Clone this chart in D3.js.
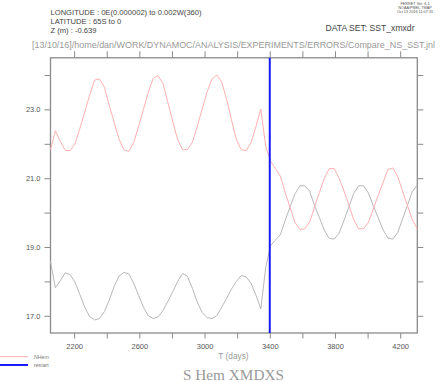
<!DOCTYPE html>
<html>
<head>
<meta charset="utf-8">
<script src="https://cdn.jsdelivr.net/npm/d3@7"></script>
<style>
  html, body { margin: 0; padding: 0; background: #fff; }
  svg { display: block; }
</style>
</head>
<body>
<svg id="chart" width="440" height="382"></svg>
<script>
// ---- data ----
const days = [2055, 2085, 2115, 2145, 2175, 2205, 2235, 2265, 2295, 2325, 2355, 2385,
  2415, 2445, 2475, 2505, 2535, 2565, 2595, 2625, 2655, 2685, 2715, 2745,
  2775, 2805, 2835, 2865, 2895, 2925, 2955, 2985, 3015, 3045, 3075, 3105,
  3135, 3165, 3195, 3225, 3255, 3285, 3315, 3345, 3375, 3405, 3435, 3465,
  3495, 3525, 3555, 3585, 3615, 3645, 3675, 3705, 3735, 3765, 3795, 3825,
  3855, 3885, 3915, 3945, 3975, 4005, 4035, 4065, 4095, 4125, 4155, 4185,
  4215, 4245, 4275, 4305];
const nhem = [21.83, 22.38, 22.07, 21.81, 21.80, 22.00, 22.44, 22.92, 23.41, 23.85, 23.89, 23.65,
  23.12, 22.63, 22.14, 21.83, 21.78, 22.03, 22.50, 23.00, 23.50, 23.90, 23.98, 23.75,
  23.20, 22.65, 22.12, 21.83, 21.83, 22.04, 22.50, 23.00, 23.50, 23.88, 24.00, 23.80,
  23.30, 22.70, 22.12, 21.83, 21.80, 22.03, 22.50, 23.01, 21.93, 21.49, 21.28, 21.06,
  20.58, 20.14, 19.71, 19.51, 19.53, 19.73, 20.17, 20.59, 21.00, 21.28, 21.28, 21.00,
  20.63, 20.22, 19.80, 19.53, 19.53, 19.71, 20.10, 20.50, 20.88, 21.25, 21.30, 21.04,
  20.62, 20.20, 19.78, 19.53];
const shem = [18.58, 17.81, 18.02, 18.25, 18.20, 17.98, 17.62, 17.25, 16.98, 16.88, 16.92, 17.12,
  17.45, 17.85, 18.15, 18.26, 18.22, 17.95, 17.60, 17.25, 17.00, 16.92, 16.97, 17.15,
  17.42, 17.70, 18.00, 18.23, 18.15, 17.80, 17.40, 17.10, 16.95, 16.92, 17.00, 17.25,
  17.50, 17.78, 18.00, 18.17, 18.13, 17.95, 17.60, 17.20, 18.40, 19.04, 19.20, 19.36,
  19.78, 20.17, 20.55, 20.78, 20.78, 20.62, 20.20, 19.85, 19.48, 19.25, 19.23, 19.40,
  19.77, 20.16, 20.56, 20.78, 20.78, 20.57, 20.20, 19.85, 19.50, 19.26, 19.23, 19.42,
  19.82, 20.22, 20.62, 20.80];
const restartDay = [3400];
const xTicks = [2200, 2400, 2600, 2800, 3000, 3200, 3400, 3600, 3800, 4000, 4200];
const xLabels = [2200, 2600, 3000, 3400, 3800, 4200];
const yTicks = [17, 18, 19, 20, 21, 22, 23, 24];
const yLabels = [17, 19, 21, 23];
const legendNames = ["NHem", "restart"];
const headerLines = ["LONGITUDE : 0E(0.000002) to 0.002W(360)", "LATITUDE : 65S to 0", "Z (m) : -0.639"];
const ferretLines = ["FERRET Ver. 6.1", "NOAA/PMEL TMAP", "Oct 13 2016 11:07:31"];
const datasetLabel = "DATA SET: SST_xmxdr";
const pathLabel = "[13/10/16]/home/dan/WORK/DYNAMOC/ANALYSIS/EXPERIMENTS/ERRORS/Compare_NS_SST.jnl";
const xTitle = "T (days)";
const mainTitle = "S Hem XMDXS";

// ---- layout ----
const L = 50.5, R = 417.3, T = 57.8, B = 333;
const x = d3.scaleLinear().domain([2055, 4305]).range([L, R]);
const y = d3.scaleLinear().domain([16.5, 24.5]).range([B, T]);
const axisCol = "#8a8a8a", labelCol = "#555";
const SANS = "'Liberation Sans', 'DejaVu Sans', sans-serif";
const SERIF = "'Liberation Serif', 'DejaVu Serif', serif";

const svg = d3.select("#chart").style("font-family", SANS);
svg.append("rect").attr("width", 440).attr("height", 382).attr("fill", "#fff");

// axes
const fmtX = d => xLabels.includes(d) ? String(d) : "";
const fmtY = d => yLabels.includes(d) ? d.toFixed(1) : "";

function styleAxis(g) {
  g.attr("font-family", null).attr("font-size", null);
  g.select(".domain").remove();
  g.selectAll(".tick line").attr("stroke", axisCol).attr("stroke-width", 1);
  g.selectAll(".tick text").attr("fill", labelCol).style("font-size", "7.5px")
    .style("font-family", SANS);
}
svg.append("g").attr("transform", `translate(0,${B})`)
  .call(d3.axisBottom(x).tickValues(xTicks).tickFormat(fmtX).tickSize(5.5).tickPadding(5))
  .call(styleAxis);
svg.append("g").attr("transform", `translate(0,${T})`)
  .call(d3.axisTop(x).tickValues(xTicks).tickFormat("").tickSize(6.5))
  .call(styleAxis);
svg.append("g").attr("transform", `translate(${L},0)`)
  .call(d3.axisLeft(y).tickValues(yTicks).tickFormat(fmtY).tickSize(6).tickPadding(4))
  .call(styleAxis);
svg.append("g").attr("transform", `translate(${R},0)`)
  .call(d3.axisRight(y).tickValues(yTicks).tickFormat("").tickSize(6))
  .call(styleAxis);

// frame
svg.append("rect").attr("x", L).attr("y", T).attr("width", R - L).attr("height", B - T)
  .attr("fill", "none").attr("stroke", axisCol).attr("stroke-width", 1.3);

// lines
const line = vals => d3.line().x((d, i) => x(days[i])).y(d => y(d))(vals);
svg.append("path").attr("d", line(shem)).attr("fill", "none")
  .attr("stroke", "#b8b8b8").attr("stroke-width", 1);
svg.append("path").attr("d", line(nhem)).attr("fill", "none")
  .attr("stroke", "#ffb0b0").attr("stroke-width", 1);

// restart line
svg.selectAll(".restart").data(restartDay).join("line")
  .attr("x1", d => x(d)).attr("x2", d => x(d)).attr("y1", T).attr("y2", B)
  .attr("stroke", "#1a1aff").attr("stroke-width", 2);

// header text
svg.selectAll(".hdr").data(headerLines).join("text")
  .attr("x", 50.5).attr("y", (d, i) => 15 + i * 8.8)
  .style("font-size", "7.6px").attr("fill", "#444").text(d => d);
svg.selectAll(".fer").data(ferretLines).join("text")
  .attr("x", 415).attr("y", (d, i) => 4.5 + i * 4.2).attr("text-anchor", "middle")
  .style("font-size", "3.8px").attr("fill", "#555").text(d => d);
svg.append("text").attr("x", 414.5).attr("y", 30.5).attr("text-anchor", "end")
  .style("font-size", "8.6px").attr("fill", "#444").text(datasetLabel);
svg.append("text").attr("x", 32).attr("y", 47.5)
  .attr("textLength", 403).attr("lengthAdjust", "spacingAndGlyphs")
  .style("font-size", "9px").attr("fill", "#999").text(pathLabel);

// x title
svg.append("text").attr("x", 233.5).attr("y", 359).attr("text-anchor", "middle")
  .style("font-size", "8.3px").attr("fill", "#999").text(xTitle);
// main title
svg.append("text").attr("x", 183).attr("y", 379.5)
  .attr("textLength", 101).attr("lengthAdjust", "spacingAndGlyphs")
  .style("font-family", SERIF)
  .style("font-size", "14px").attr("fill", "#999").text(mainTitle);

// legend
const legCols = ["#ffb0b0", "#1a1aff"];
const legW = [1, 2];
const lg = svg.selectAll(".leg").data(legendNames).join("g")
  .attr("transform", (d, i) => `translate(0,${356.7 + i * 8.3})`);
lg.append("line").attr("x1", 0).attr("x2", 28).attr("y1", 0).attr("y2", 0)
  .attr("stroke", (d, i) => legCols[i]).attr("stroke-width", (d, i) => legW[i]);
lg.append("text").attr("x", 34).attr("y", 1.8).style("font-size", "5.2px")
  .attr("fill", "#777").text(d => d);
</script>
</body>
</html>
